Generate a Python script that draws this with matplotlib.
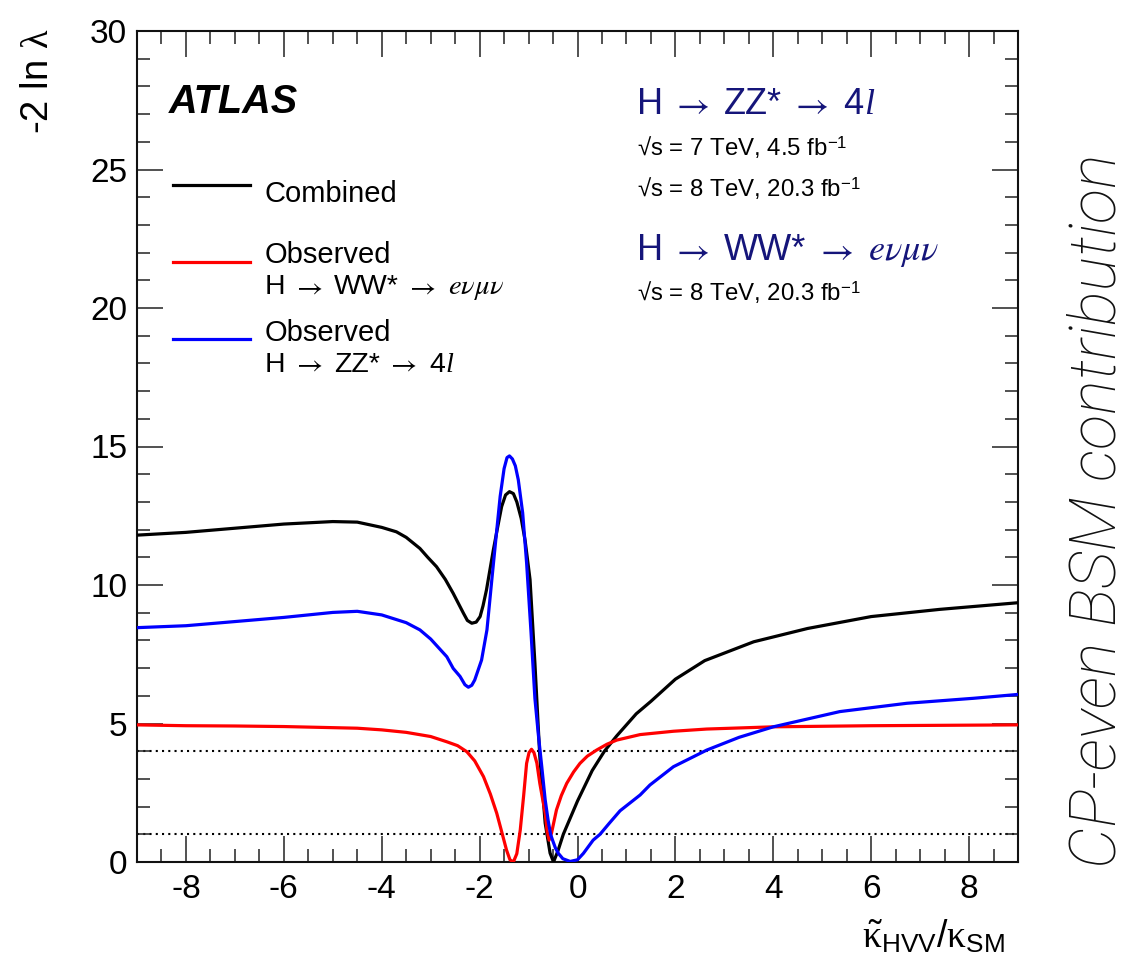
import matplotlib
matplotlib.use("Agg")
import matplotlib.pyplot as plt
from matplotlib.lines import Line2D
from matplotlib.ticker import MultipleLocator

plt.rcParams['font.family'] = ['Liberation Sans', 'DejaVu Sans']
plt.rcParams['axes.unicode_minus'] = False
plt.rcParams['mathtext.fontset'] = 'custom'
plt.rcParams['mathtext.rm'] = 'Liberation Sans'
plt.rcParams['mathtext.it'] = 'Liberation Serif:italic'
plt.rcParams['mathtext.sf'] = 'Liberation Serif'
plt.rcParams['mathtext.bf'] = 'Liberation Sans:bold'

# ---------------- data ----------------
x_comb = [-9, -8, -7, -6, -5, -4.5, -4, -3.7, -3.5, -3.22, -3.06, -2.88, -2.7,
          -2.54, -2.33, -2.25, -2.16, -2.07, -1.99, -1.93, -1.86, -1.72, -1.63,
          -1.55, -1.47, -1.39, -1.31, -1.24, -1.15, -1.07, -0.97, -0.87, -0.77,
          -0.66, -0.56, -0.49, -0.4, -0.29, 0.0, 0.3, 0.55, 0.8, 1.2, 1.5, 2.0,
          2.6, 3.6, 4.7, 6.0, 7.4, 9.0]
y_comb = [11.8, 11.9, 12.05, 12.2, 12.29, 12.27, 12.08, 11.92, 11.72, 11.32, 11.0,
          10.66, 10.2, 9.7, 8.98, 8.72, 8.62, 8.66, 8.86, 9.25, 9.82, 11.26, 12.1,
          12.83, 13.25, 13.37, 13.3, 13.0, 12.4, 11.6, 10.2, 7.17, 3.8, 1.4, 0.32,
          0.0, 0.4, 1.0, 2.2, 3.3, 4.0, 4.55, 5.35, 5.8, 6.6, 7.27, 7.95, 8.43,
          8.86, 9.12, 9.36]

x_ww = [-9, -8, -7, -6, -5, -4.5, -4, -3.5, -3.0, -2.67, -2.45, -2.26, -2.1,
        -1.92, -1.78, -1.65, -1.55, -1.45, -1.38, -1.31, -1.24, -1.17, -1.1,
        -1.04, -0.99, -0.94, -0.89, -0.83, -0.77, -0.71, -0.66, -0.62, -0.58,
        -0.53, -0.43, -0.33, -0.22, -0.08, 0.05, 0.2, 0.39, 0.6, 0.8, 1.28,
        1.96, 2.64, 4.0, 6.0, 9.0]
y_ww = [4.95, 4.92, 4.91, 4.89, 4.85, 4.83, 4.77, 4.68, 4.53, 4.34, 4.2, 3.98,
        3.65, 3.08, 2.45, 1.76, 1.1, 0.43, 0.08, 0.0, 0.3, 1.15, 2.4, 3.56,
        3.95, 4.07, 3.95, 3.57, 2.84, 2.25, 1.76, 1.1, 0.79, 1.05, 1.88, 2.4,
        2.84, 3.25, 3.56, 3.82, 4.04, 4.25, 4.4, 4.6, 4.72, 4.8, 4.88, 4.92,
        4.95]

x_zz = [-9, -8, -7, -6, -5, -4.5, -4, -3.5, -3.22, -3.0, -2.67, -2.54, -2.4,
        -2.3, -2.23, -2.16, -2.1, -1.96, -1.85, -1.75, -1.66, -1.58, -1.5,
        -1.44, -1.39, -1.33, -1.27, -1.21, -1.12, -1.04, -0.95, -0.87, -0.8,
        -0.73, -0.66, -0.6, -0.55, -0.51, -0.45, -0.39, -0.3, -0.15, 0.0, 0.12,
        0.32, 0.46, 0.65, 0.87, 1.28, 1.48, 1.96, 2.64, 3.3, 4.0, 5.36, 6.73,
        8.09, 9.0]
y_zz = [8.46, 8.53, 8.68, 8.83, 9.01, 9.05, 8.92, 8.64, 8.38, 8.05, 7.41, 6.99,
        6.7, 6.4, 6.31, 6.38, 6.57, 7.29, 8.38, 10.2, 11.8, 13.2, 14.2, 14.6,
        14.66, 14.55, 14.3, 13.8, 12.6, 10.8, 8.3, 5.9, 4.6, 3.44, 2.24, 1.5,
        1.0, 0.79, 0.5, 0.31, 0.12, 0.02, 0.08, 0.31, 0.79, 1.0, 1.4, 1.85,
        2.42, 2.78, 3.44, 4.04, 4.5, 4.88, 5.43, 5.73, 5.91, 6.05]

ref_levels = [1, 4]

colors = ['black', '#ff0000', '#0000ff']
leg_first = ['Combined', 'Observed', 'Observed']

# ---------------- figure ----------------
W, H = 1130, 957
fig = plt.figure(figsize=(W / 100, H / 100), dpi=100)
renderer = fig.canvas.get_renderer()


def fx(px):
    return px / W


def fy(py):
    return 1 - py / H


SANS = dict(family=['Liberation Sans', 'DejaVu Sans'])
ARROW = dict(math_fontfamily='stix')
SERIF_IT = dict(family=['Liberation Serif'], style='italic')


def rich(x_px, y_px, pieces, size, color='black'):
    """Draw text pieces left to right; numbers are gaps in em."""
    x = x_px
    for item in pieces:
        if isinstance(item, (int, float)):
            x += item * size * 100 / 72
            continue
        s, kw = item
        t = fig.text(x / W, fy(y_px), s, fontsize=size, color=color,
                     ha='left', va='baseline', **kw)
        x = t.get_window_extent(renderer).x1


ARR = ('$\\rightarrow$', ARROW)
G1, G2 = 0.22, 0.42
line_ww = [('H', SANS), G1, ARR, G2, ('WW*', SANS), G1, ARR, G2,
           ('$e\\nu\\mu\\nu$', ARROW)]
line_zz = [('H', SANS), G1, ARR, G2, ('ZZ*', SANS), G1, ARR, G2,
           ('4', SANS), 0.02, ('l', SERIF_IT)]

ax = fig.add_axes([fx(137), 95 / H, 881 / W, 831 / H])
ax.set_xlim(-9, 9)
ax.set_ylim(0, 30)

for lev in ref_levels:
    ax.axhline(lev, color='black', lw=1.5, ls=(0, (1, 2.0)), zorder=1)

ax.plot(x_comb, y_comb, color=colors[0], lw=2.3, zorder=3, solid_joinstyle='round')
ax.plot(x_ww, y_ww, color=colors[1], lw=2.3, zorder=3, solid_joinstyle='round')
ax.plot(x_zz, y_zz, color=colors[2], lw=2.3, zorder=3, solid_joinstyle='round')

ax.xaxis.set_major_locator(MultipleLocator(2))
ax.xaxis.set_minor_locator(MultipleLocator(0.5))
ax.yaxis.set_major_locator(MultipleLocator(5))
ax.yaxis.set_minor_locator(MultipleLocator(1))
ax.tick_params(which='both', direction='in', top=True, right=True,
               width=1.1, color='#222222')
ax.tick_params(which='major', length=18.5, labelsize=24, pad=7)
ax.tick_params(which='minor', length=9.2)
ax.tick_params(axis='x', which='major', pad=9)
for s in ax.spines.values():
    s.set_linewidth(1.5)
    s.set_color('#111111')

# axis titles
fig.text(fx(38), fy(29), '-2 ln $\\mathsf{\\lambda}$', rotation=90,
         ha='center', va='top', fontsize=27.5)
fig.text(fx(1005), fy(948),
         '$\\tilde{\\mathsf{\\kappa}}_{\\mathrm{HVV}}/\\mathsf{\\kappa}_{\\mathrm{SM}}$',
         ha='right', va='baseline', fontsize=27)

# ATLAS label
fig.text(fx(169), fy(113), 'ATLAS', fontsize=28.5, fontweight='bold',
         fontstyle='italic', ha='left', va='baseline')

# legend (manual, ROOT style)
leg_line_y = [185, 261.7, 339.3]
leg_text_y = [201.7, 263.3, 341]
leg_second = [None, line_ww, line_zz]
for c, ly, ty, l1, l2 in zip(colors, leg_line_y, leg_text_y, leg_first, leg_second):
    fig.add_artist(Line2D([fx(173), fx(250)], [fy(ly), fy(ly)], color=c, lw=2.3))
    fig.text(fx(265), fy(ty), l1, fontsize=21, ha='left', va='baseline')
    if l2 is not None:
        rich(265, ty + 31, l2, 20.5)

navy = '#15157a'
rich(637, 114, line_zz, 26, navy)
fig.text(fx(637), fy(156), '√s = 7 TeV, 4.5 fb$^{-1}$', fontsize=17.3,
         ha='left', va='baseline')
fig.text(fx(637), fy(197), '√s = 8 TeV, 20.3 fb$^{-1}$', fontsize=17.3,
         ha='left', va='baseline')
rich(637, 260, line_ww, 26, navy)
fig.text(fx(637), fy(301), '√s = 8 TeV, 20.3 fb$^{-1}$', fontsize=17.3,
         ha='left', va='baseline')

# side annotation
fig.text(fx(1129), fy(868), 'CP-even BSM contribution', rotation=90,
         fontsize=47, family=['Roboto', 'DejaVu Sans'], fontweight='light',
         fontstyle='italic', ha='right', va='bottom', color='#111111')

fig.savefig('out.png', dpi=100)
